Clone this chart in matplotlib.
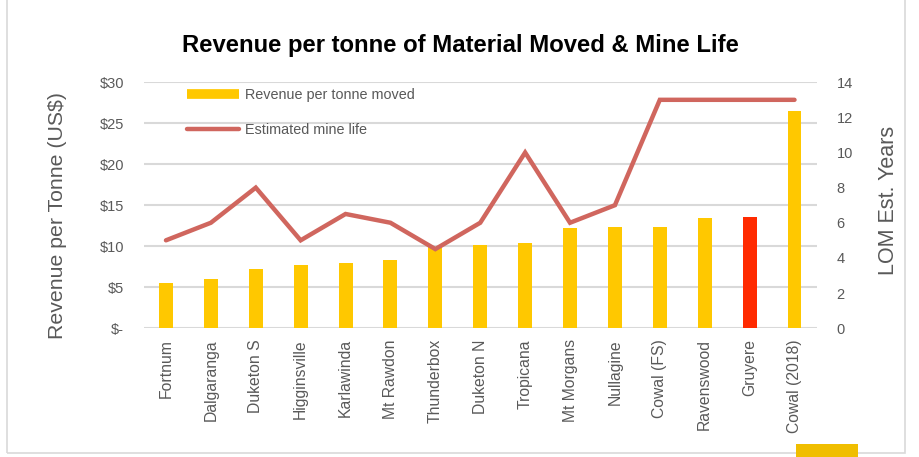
import matplotlib
matplotlib.use("Agg")
import matplotlib.pyplot as plt
import numpy as np
from matplotlib.lines import Line2D
from matplotlib.patches import Rectangle

plt.rcParams['font.family'] = ['Liberation Sans', 'DejaVu Sans']

categories = ["Fortnum", "Dalgaranga", "Duketon S", "Higginsville", "Karlawinda",
              "Mt Rawdon", "Thunderbox", "Duketon N", "Tropicana", "Mt Morgans",
              "Nullagine", "Cowal (FS)", "Ravenswood", "Gruyere", "Cowal (2018)"]
revenue = [5.5, 6.0, 7.2, 7.7, 7.9, 8.3, 9.9, 10.1, 10.4, 12.2, 12.3, 12.4, 13.4, 13.6, 26.5]
mine_life = [5, 6, 8, 5, 6.5, 6, 4.5, 6, 10, 6, 7, 13, 13, 13, 13]
left_ticks = [0, 5, 10, 15, 20, 25, 30]
left_labels = ["$-", "$5", "$10", "$15", "$20", "$25", "$30"]
right_ticks = [0, 2, 4, 6, 8, 10, 12, 14]

YELLOW = "#FFC800"
RED = "#FF2A00"
LINE = "#D0665E"
GRAY = "#595959"
GRID = "#D9D9D9"

fig = plt.figure(figsize=(9.2, 4.57), dpi=100)
ax = fig.add_axes([0.156, 0.282, 0.732, 0.538])
ax2 = ax.twinx()

x = np.arange(len(categories))
colors = [RED if c == "Gruyere" else YELLOW for c in categories]
ax.bar(x, revenue, width=0.31, color=colors, zorder=2)
ax.set_ylim(0, 30)
ax.set_xlim(-0.5, len(categories) - 0.5)
ax.set_yticks(left_ticks)
ax.set_yticklabels(left_labels)
ax.yaxis.grid(True, color=GRID, linewidth=1.5, zorder=0)
ax.set_axisbelow(True)
ax.set_xticks(x)
ax.set_xticklabels(categories, rotation=90, fontsize=11.3, color=GRAY)
ax.tick_params(axis='x', length=0, colors=GRAY, pad=8)
ax.tick_params(axis='y', length=0, colors=GRAY, labelsize=10.5, pad=14)
for s in ax.spines.values():
    s.set_visible(False)

ax2.plot(x, mine_life, color=LINE, linewidth=3.2, solid_capstyle='round', solid_joinstyle='miter', zorder=3)
ax2.set_ylim(0, 14)
ax2.set_yticks(right_ticks)
ax2.tick_params(axis='y', length=0, colors=GRAY, labelsize=10.5, pad=14)
for s in ax2.spines.values():
    s.set_visible(False)

ax.set_ylabel("Revenue per Tonne (US$)", fontsize=15.3, color=GRAY)
ax.yaxis.set_label_coords(-0.114, 0.46)
ax2.set_ylabel("LOM Est. Years", fontsize=15.5, color=GRAY)
ax2.yaxis.set_label_coords(1.09, 0.52)

fig.text(0.5, 0.9, "Revenue per tonne of Material Moved & Mine Life",
         ha='center', va='center', fontsize=17.2, fontweight='bold', color='black')

handles = [Line2D([0], [0], color=YELLOW, linewidth=7, solid_capstyle='butt'),
           Line2D([0], [0], color=LINE, linewidth=3.2, solid_capstyle='round')]
ax2.legend(handles, ["Revenue per tonne moved", "Estimated mine life"],
           loc='upper left', bbox_to_anchor=(0.045, 1.03), frameon=False,
           handlelength=3.6, labelspacing=1.45, fontsize=10.4,
           labelcolor=GRAY, handletextpad=0.4)

# frame around figure
fig.add_artist(Rectangle((7/920, 1 - 453/457), (905 - 7)/920, 460/457,
                         transform=fig.transFigure, fill=False,
                         edgecolor="#D9D9D9", linewidth=1.2))
fig.add_artist(Rectangle((796/920, 0), 62/920, 13/457, transform=fig.transFigure,
                         facecolor="#F0BE00", edgecolor='none'))

fig.savefig("out.png", dpi=100, facecolor='white')
